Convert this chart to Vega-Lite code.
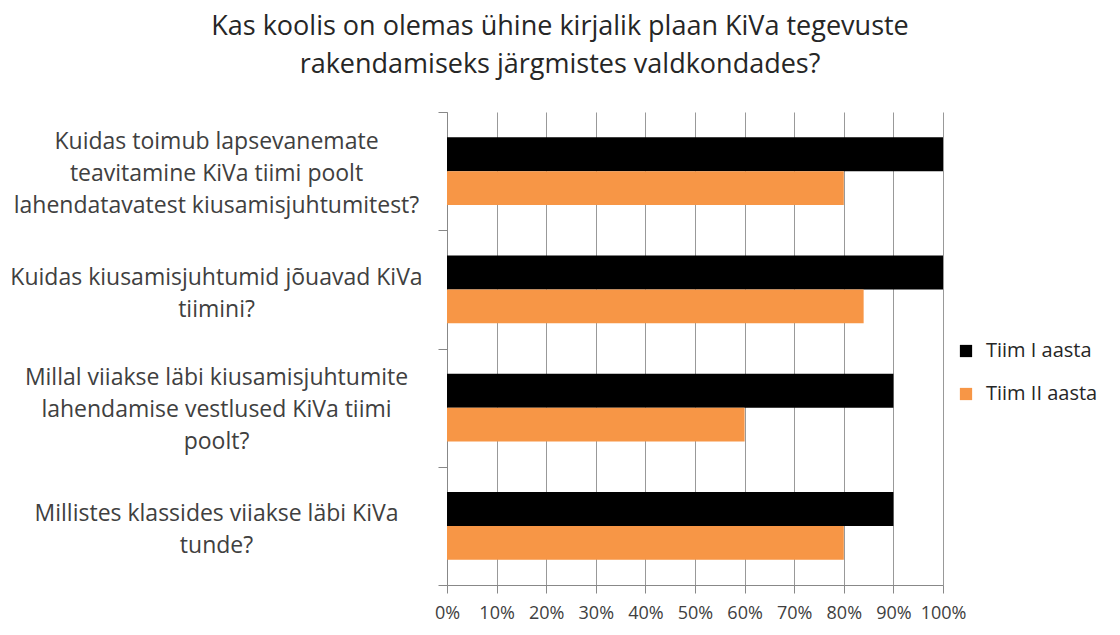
{
  "$schema": "https://vega.github.io/schema/vega-lite/v6.json",
  "autosize": {"type": "none"},
  "padding": {"left": 447, "top": 112, "right": 177, "bottom": 50},
  "width": 496,
  "height": 473,
  "background": "white",
  "title": {
    "text": ["Kas koolis on olemas ühine kirjalik plaan KiVa tegevuste", "rakendamiseks järgmistes valdkondades?"],
    "font": "Open Sans",
    "fontSize": 27,
    "fontWeight": "normal",
    "color": "#262626",
    "lineHeight": 38,
    "anchor": "middle",
    "dx": -135,
    "offset": 22
  },
  "data": {
    "values": [
      {"question": "Kuidas toimub lapsevanemate\nteavitamine KiVa tiimi poolt\nlahendatavatest kiusamisjuhtumitest?", "series": "Tiim I aasta", "value": 1.0},
      {"question": "Kuidas toimub lapsevanemate\nteavitamine KiVa tiimi poolt\nlahendatavatest kiusamisjuhtumitest?", "series": "Tiim II aasta", "value": 0.8},
      {"question": "Kuidas kiusamisjuhtumid jõuavad KiVa\ntiimini?", "series": "Tiim I aasta", "value": 1.0},
      {"question": "Kuidas kiusamisjuhtumid jõuavad KiVa\ntiimini?", "series": "Tiim II aasta", "value": 0.84},
      {"question": "Millal viiakse läbi kiusamisjuhtumite\nlahendamise vestlused KiVa tiimi\npoolt?", "series": "Tiim I aasta", "value": 0.9},
      {"question": "Millal viiakse läbi kiusamisjuhtumite\nlahendamise vestlused KiVa tiimi\npoolt?", "series": "Tiim II aasta", "value": 0.6},
      {"question": "Millistes klassides viiakse läbi KiVa\ntunde?", "series": "Tiim I aasta", "value": 0.9},
      {"question": "Millistes klassides viiakse läbi KiVa\ntunde?", "series": "Tiim II aasta", "value": 0.8}
    ]
  },
  "mark": {"type": "bar"},
  "encoding": {
    "y": {
      "field": "question",
      "type": "nominal",
      "sort": null,
      "scale": {"paddingInner": 0, "paddingOuter": 0},
      "axis": {
        "title": null,
        "labelExpr": "split(datum.label, '\\n')",
        "labelAlign": "center",
        "labelBaseline": "middle",
        "labelOffset": {"condition": {"test": "isString(datum.value) && length(split(datum.value, '\\n')) == 2", "value": -12}, "value": -30},
        "labelPadding": 222,
        "labelFont": "Open Sans",
        "labelFontSize": 23,
        "labelLineHeight": 32,
        "labelColor": "#404040",
        "labelLimit": 600,
        "tickBand": "extent",
        "tickSize": 9,
        "tickColor": "#888888",
        "domainColor": "#888888",
        "grid": false
      }
    },
    "yOffset": {
      "field": "series",
      "type": "nominal",
      "sort": ["Tiim I aasta", "Tiim II aasta"],
      "scale": {"paddingInner": 0, "paddingOuter": 0.739}
    },
    "x": {
      "field": "value",
      "type": "quantitative",
      "scale": {"domain": [0, 1], "nice": false},
      "axis": {
        "title": null,
        "format": ".0%",
        "values": [0, 0.1, 0.2, 0.3, 0.4, 0.5, 0.6, 0.7, 0.8, 0.9, 1.0],
        "labelOverlap": false,
        "labelFlush": false,
        "labelFont": "Open Sans",
        "labelFontSize": 18,
        "labelColor": "#404040",
        "labelPadding": 11,
        "tickSize": 8,
        "tickColor": "#888888",
        "domainColor": "#888888",
        "grid": true,
        "gridColor": "#999999"
      }
    },
    "color": {
      "field": "series",
      "type": "nominal",
      "sort": ["Tiim I aasta", "Tiim II aasta"],
      "scale": {"domain": ["Tiim I aasta", "Tiim II aasta"], "range": ["#000000", "#F79646"]},
      "legend": {
        "title": null,
        "orient": "none",
        "legendX": 509,
        "legendY": 229,
        "symbolType": "square",
        "symbolSize": 150,
        "symbolStrokeWidth": 0,
        "labelFont": "Open Sans",
        "labelFontSize": 20,
        "labelColor": "#262626",
        "rowPadding": 23,
        "labelOffset": 10
      }
    }
  },
  "config": {"view": {"stroke": null}}
}
